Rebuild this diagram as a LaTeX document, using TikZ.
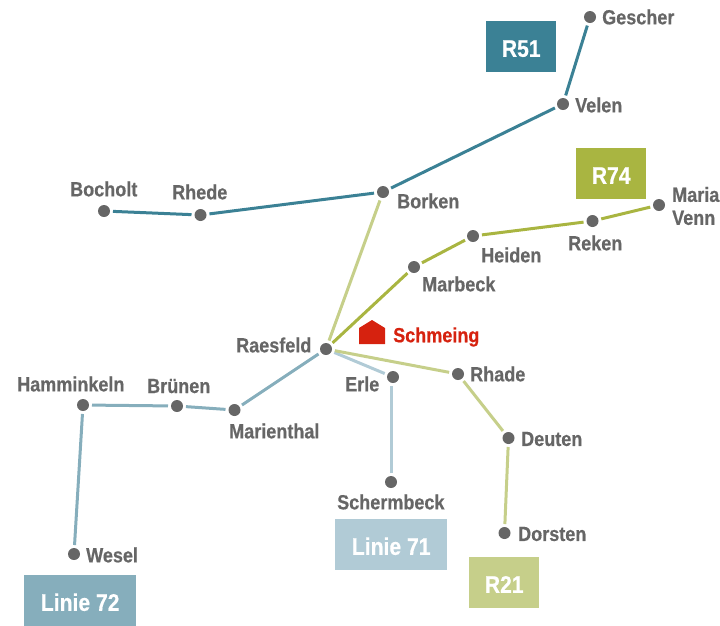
\documentclass[tikz,border=0pt]{standalone}
\usepackage{fontspec}
\setmainfont{Liberation Sans}[BoldFeatures={FakeStretch=0.88,FakeBold=0.5}]
\definecolor{cA}{HTML}{3B8195}
\definecolor{cB}{HTML}{A9B541}
\definecolor{cC}{HTML}{B1CBD6}
\definecolor{cD}{HTML}{C6CF8A}
\definecolor{cE}{HTML}{86AEBC}
\definecolor{dotc}{HTML}{666666}
\definecolor{redc}{HTML}{D6220F}
\tikzset{
 stop/.style={circle,fill=dotc,minimum size=12pt,inner sep=0pt,outer sep=3pt},
 lab/.style={text=dotc,font=\bfseries\fontsize{20.5}{23}\selectfont,inner sep=0pt,align=left,anchor=west},
 tag/.style={text=white,font=\bfseries\fontsize{24}{26}\selectfont,inner sep=0pt,minimum height=51pt,text height=20.2pt,text depth=0pt,anchor=north west},
 lnk/.style={line width=3pt}
}
\begin{document}
\begin{tikzpicture}[x=1pt,y=-1pt]
\useasboundingbox (0,0) rectangle (720,625);
\clip (0,0) rectangle (720,625);
\foreach \n/\x/\y in {gescher/590/17,velen/563/104,borken/383/192,rhede/200.5/215,bocholt/104/211,raesfeld/326/349,marbeck/414/267,heiden/473/236,reken/592.5/221,maria/659/205,erle/393/377,schermbeck/391/482,rhade/458/374,deuten/508.5/438,dorsten/504.5/533,marienthal/234.5/410,bruenen/177/406,hamminkeln/83/405,wesel/74/554}
  {\node[stop] (\n) at (\x,\y) {};}
\draw[lnk,cA] (gescher)--(velen);
\draw[lnk,cA] (velen)--(borken);
\draw[lnk,cA] (borken)--(rhede);
\draw[lnk,cA] (rhede)--(bocholt);
\draw[lnk,cD] (borken)--(raesfeld);
\draw[lnk,cB] (raesfeld)--(marbeck);
\draw[lnk,cB] (marbeck)--(heiden);
\draw[lnk,cB] (heiden)--(reken);
\draw[lnk,cB] (reken)--(maria);
\draw[lnk,cC] (raesfeld)--(erle);
\draw[lnk,cC] (schermbeck)--(schermbeck |- erle.south);
\draw[lnk,cD] (raesfeld)--(rhade);
\draw[lnk,cD] (rhade)--(deuten);
\draw[lnk,cD] (deuten)--(dorsten);
\draw[lnk,cE] (raesfeld)--(marienthal);
\draw[lnk,cE] (marienthal)--(bruenen);
\draw[lnk,cE] (bruenen)--(hamminkeln);
\draw[lnk,cE] (hamminkeln)--(wesel);
\node[lab] (tgescher) at (602,17) {Gescher};
\node[lab] (tvelen) at (575,105) {Velen};
\node[lab] (tborken) at (397,201) {Borken};
\node[lab] (trhede) at (172,192) {Rhede};
\node[lab] (tbocholt) at (70,189) {Bocholt};
\node[lab] (traesfeld) at (236,345) {Raesfeld};
\node[lab] (tmarbeck) at (422,284) {Marbeck};
\node[lab] (theiden) at (481,255) {Heiden};
\node[lab] (treken) at (568,243) {Reken};
\node[lab] (tmaria) at (672,206) {Maria\\Venn};
\node[lab] (terle) at (345,384) {Erle};
\node[lab] (tschermbeck) at (337,502) {Schermbeck};
\node[lab] (trhade) at (470,374) {Rhade};
\node[lab] (tdeuten) at (521,439) {Deuten};
\node[lab] (tdorsten) at (518,534) {Dorsten};
\node[lab] (tmarienthal) at (229,431) {Marienthal};
\node[lab] (tbruenen) at (147,386) {Brünen};
\node[lab] (thamminkeln) at (17,384) {Hamminkeln};
\node[lab] (twesel) at (86,555) {Wesel};
\fill[redc] (359,344)--(359,328)--(372,320)--(385,328)--(385,344)--cycle;
\node[lab,text=redc] (tschmeing) at (393,337) {Schmeing};
\node[tag,fill=cA,minimum width=70pt] (bA) at (486,21) {R51};
\node[tag,fill=cB,minimum width=70pt] (bB) at (576,148) {R74};
\node[tag,fill=cC,minimum width=112pt] (bC) at (335,519) {Linie 71};
\node[tag,fill=cD,minimum width=70pt] (bD) at (469,557) {R21};
\node[tag,fill=cE,minimum width=112pt] (bE) at (24,575) {Linie 72};
\end{tikzpicture}
\end{document}
